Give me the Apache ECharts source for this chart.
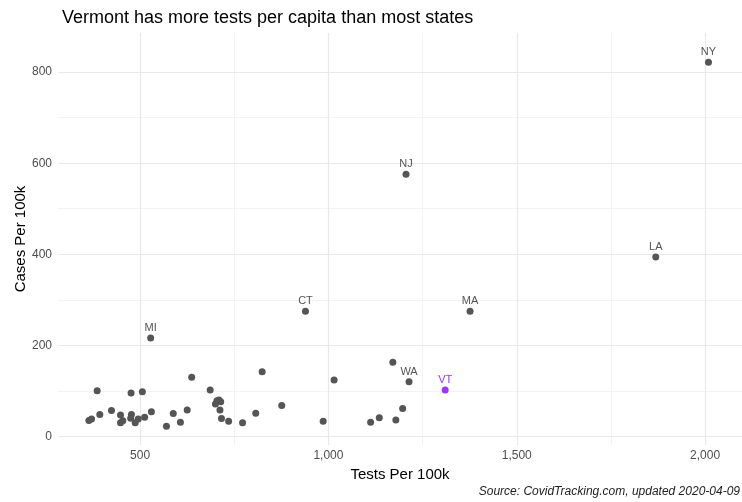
<!DOCTYPE html>
<html lang="en">
<head>
    <meta charset="UTF-8">
    <title>Vermont tests per capita</title>
    <style>
        html, body {margin: 0; padding: 0; background: #fff;}
        #chart {width: 742px; height: 502px;}
    </style>
</head>
<body>
    <div id="chart"></div>

    <script src="https://cdn.jsdelivr.net/npm/echarts@6/dist/echarts.min.js"></script>
    <script>

// labelled states (grey)
const labelStates = ['NY', 'NJ', 'LA', 'MA', 'CT', 'MI', 'WA'];
const labelTests = [2009, 1206, 1869, 1376, 939, 528, 1214];
const labelCases = [822, 576, 394, 275, 275, 216, 120];

// Vermont, highlighted
const vtTests = 1310;
const vtCases = 102;

// everybody else, unlabelled
const otherTests = [364, 371, 393, 386, 424, 448, 448, 454, 476, 477, 475, 487, 495, 506, 512, 530,
    570, 588, 607, 625, 637, 686, 704, 700, 714, 709, 712, 716, 735, 772, 807, 824, 876,
    1015, 986, 1112, 1135, 1179, 1197, 1171];
const otherCases = [35, 38, 48, 100, 57, 47, 30, 34, 95, 48, 40, 30, 38, 98, 42, 54,
    22, 50, 31, 58, 130, 102, 78, 71, 76, 80, 58, 39, 33, 30, 51, 142, 68,
    124, 33, 31, 41, 36, 61, 163];

// axis ticks + gridlines
const xTicks = [500, 1000, 1500, 2000];
const xMinor = [250, 750, 1250, 1750];
const yTicks = [0, 200, 400, 600, 800];
const yMinor = [100, 300, 500, 700];

const font = 'Liberation Sans, Arial, Helvetica, sans-serif';
const grey = '#4d4d4d';
const dot = '#555555';
const purple = '#a033ff';

const chart = echarts.init(document.getElementById('chart'));

// gridlines drawn as markLines so they sit exactly on the ggplot breaks
const gridLines = [];
xMinor.forEach(v => gridLines.push({xAxis: v, lineStyle: {color: '#f3f3f3', width: 1, type: 'solid'}}));
yMinor.forEach(v => gridLines.push({yAxis: v, lineStyle: {color: '#f3f3f3', width: 1, type: 'solid'}}));
xTicks.forEach(v => gridLines.push({xAxis: v, lineStyle: {color: '#e9e9e9', width: 1.2, type: 'solid'}}));
yTicks.forEach(v => gridLines.push({yAxis: v, lineStyle: {color: '#e9e9e9', width: 1.2, type: 'solid'}}));

const option = {
    animation: false,
    backgroundColor: '#fff',
    textStyle: {fontFamily: font},
    title: {
        text: 'Vermont has more tests per capita than most states',
        left: 57,
        top: 4,
        textStyle: {fontFamily: font, fontSize: 18, fontWeight: 'normal', color: '#000'}
    },
    grid: {left: 58, right: 0, top: 33, bottom: 57},
    xAxis: {
        type: 'value',
        min: 282,
        max: 2098,
        name: 'Tests Per 100k',
        nameLocation: 'middle',
        nameGap: 18,
        nameTextStyle: {fontSize: 15, color: '#000', fontFamily: font, verticalAlign: 'top'},
        axisLine: {show: false},
        axisTick: {show: false},
        splitLine: {show: false},
        axisLabel: {
            customValues: xTicks,
            color: grey,
            fontSize: 12,
            margin: 5,
            formatter: v => v.toLocaleString('en-US')
        }
    },
    yAxis: {
        type: 'value',
        min: -19,
        max: 886,
        name: 'Cases Per 100k',
        nameLocation: 'middle',
        nameGap: 30,
        nameMoveOverlap: false,
        nameRotate: 90,
        nameTextStyle: {fontSize: 15, color: '#000', fontFamily: font},
        axisLine: {show: false},
        axisTick: {show: false},
        splitLine: {show: false},
        axisLabel: {
            customValues: yTicks,
            color: grey,
            fontSize: 12,
            margin: 6
        }
    },
    graphic: [{
        type: 'text',
        right: 2,
        top: 486,
        style: {
            text: 'Source: CovidTracking.com, updated 2020-04-09',
            font: 'italic 12px ' + font,
            fill: '#222'
        }
    }],
    series: [
        {
            type: 'scatter',
            data: [],
            silent: true,
            z: 0,
            markLine: {
                silent: true,
                symbol: 'none',
                animation: false,
                label: {show: false},
                data: gridLines
            }
        },
        {
            type: 'scatter',
            z: 5,
            symbolSize: 7,
            itemStyle: {color: dot, opacity: 1},
            data: otherTests.map((t, i) => [t, otherCases[i]])
        },
        {
            type: 'scatter',
            z: 5,
            symbolSize: 7,
            itemStyle: {color: dot, opacity: 1},
            label: {
                show: true,
                position: 'top',
                distance: 1,
                color: '#555',
                fontSize: 11,
                fontFamily: font,
                formatter: p => p.data[2]
            },
            data: labelTests.map((t, i) => [t, labelCases[i], labelStates[i]])
        },
        {
            type: 'scatter',
            z: 5,
            symbolSize: 7,
            itemStyle: {color: purple, opacity: 1},
            label: {
                show: true,
                position: 'top',
                distance: 1,
                color: purple,
                fontSize: 11,
                fontFamily: font,
                formatter: 'VT'
            },
            data: [[vtTests, vtCases]]
        }
    ]
};

chart.setOption(option);
    </script>
</body>
</html>
